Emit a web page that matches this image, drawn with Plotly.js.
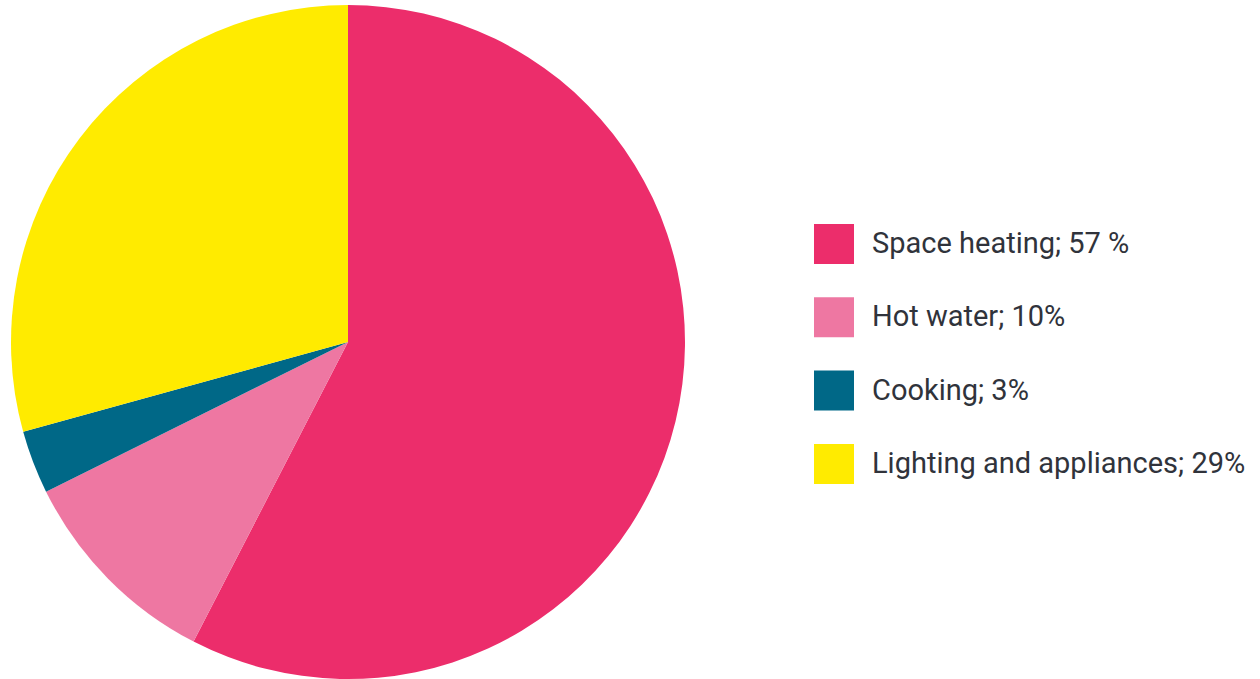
<!DOCTYPE html>
<html>
<head>
<meta charset="utf-8">
<script src="https://cdn.plot.ly/plotly-3.0.1.min.js"></script>
<style>
html,body{margin:0;padding:0;background:#fff;}
#chart{width:1260px;height:679px;}
</style>
</head>
<body>
<div id="chart"></div>
<script>
// Data
const categories = ["Space heating", "Hot water", "Cooking", "Lighting and appliances"];
const shares = [57, 10, 3, 29];
const legendLabels = ["Space heating; 57 %", "Hot water; 10%", "Cooking; 3%", "Lighting and appliances; 29%"];
const colors = ["#EC2D6B", "#EE77A2", "#006887", "#FFEB00"];

const W = 1260, H = 679;
const px = x => x / W;
const py = y => 1 - y / H;

const trace = {
  type: "pie",
  labels: categories,
  values: shares,
  sort: false,
  direction: "clockwise",
  rotation: 0,
  textinfo: "none",
  hoverinfo: "label+percent",
  marker: { colors: colors, line: { width: 0 } },
  domain: { x: [px(11), px(685)], y: [0, py(5)] },
  showlegend: false
};

// Custom legend (large swatches) built from the data arrays
const shapes = [];
const annotations = [];
const legendTop = 244, legendStep = 73.3, sw = 40;
legendLabels.forEach((lab, i) => {
  const cy = legendTop + i * legendStep;
  shapes.push({
    type: "rect", xref: "paper", yref: "paper",
    x0: px(814), x1: px(814 + sw), y0: py(cy - sw / 2), y1: py(cy + sw / 2),
    fillcolor: colors[i], line: { width: 0 }
  });
  annotations.push({
    xref: "paper", yref: "paper", x: px(870), y: py(cy - 1),
    xanchor: "left", yanchor: "middle", showarrow: false,
    text: lab,
    font: { family: "Roboto, 'Liberation Sans', sans-serif", size: 29, color: "#30333b" }
  });
});

const layout = {
  width: W, height: H,
  margin: { l: 0, r: 0, t: 0, b: 0 },
  paper_bgcolor: "#ffffff",
  showlegend: false,
  shapes: shapes,
  annotations: annotations
};

Plotly.newPlot("chart", [trace], layout, { displayModeBar: false, staticPlot: true });
</script>
</body>
</html>
